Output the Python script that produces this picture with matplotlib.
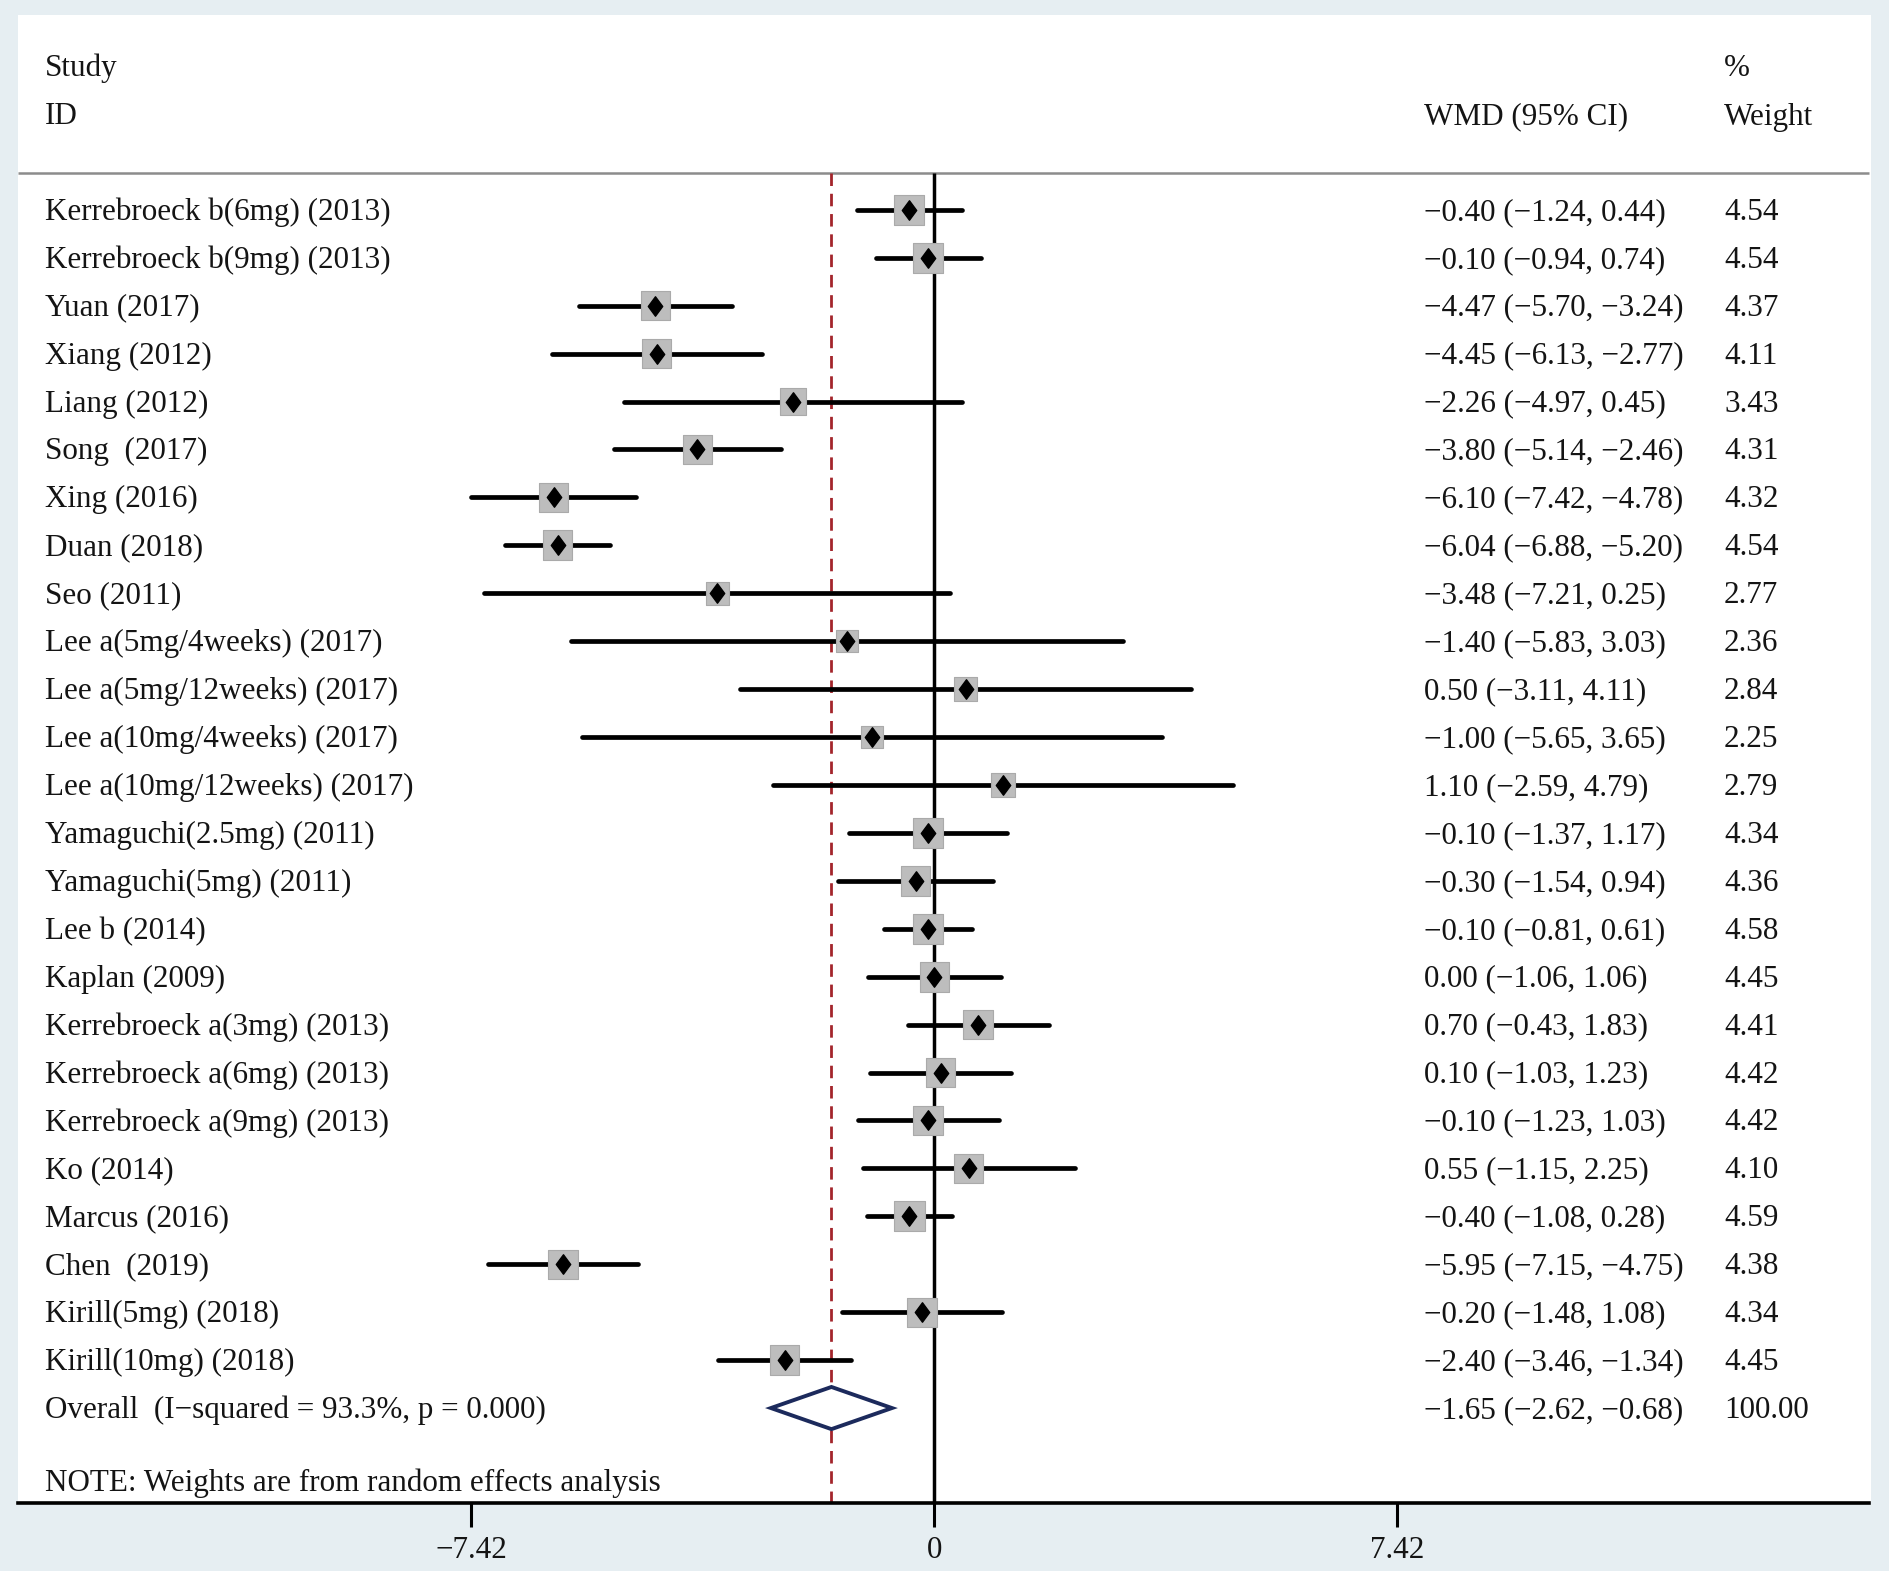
import matplotlib
matplotlib.use("Agg")
import matplotlib.pyplot as plt
from matplotlib.patches import Rectangle, Polygon
from matplotlib.path import Path

plt.rcParams['font.family'] = ['Liberation Serif', 'DejaVu Serif']

# ---------------- data ----------------
studies = [
    "Kerrebroeck b(6mg) (2013)", "Kerrebroeck b(9mg) (2013)", "Yuan (2017)",
    "Xiang (2012)", "Liang (2012)", "Song  (2017)", "Xing (2016)", "Duan (2018)",
    "Seo (2011)", "Lee a(5mg/4weeks) (2017)", "Lee a(5mg/12weeks) (2017)",
    "Lee a(10mg/4weeks) (2017)", "Lee a(10mg/12weeks) (2017)",
    "Yamaguchi(2.5mg) (2011)", "Yamaguchi(5mg) (2011)", "Lee b (2014)",
    "Kaplan (2009)", "Kerrebroeck a(3mg) (2013)", "Kerrebroeck a(6mg) (2013)",
    "Kerrebroeck a(9mg) (2013)", "Ko (2014)", "Marcus (2016)", "Chen  (2019)",
    "Kirill(5mg) (2018)", "Kirill(10mg) (2018)",
]
wmd = [-0.40, -0.10, -4.47, -4.45, -2.26, -3.80, -6.10, -6.04, -3.48, -1.40,
       0.50, -1.00, 1.10, -0.10, -0.30, -0.10, 0.00, 0.70, 0.10, -0.10, 0.55,
       -0.40, -5.95, -0.20, -2.40]
ci_low = [-1.24, -0.94, -5.70, -6.13, -4.97, -5.14, -7.42, -6.88, -7.21, -5.83,
          -3.11, -5.65, -2.59, -1.37, -1.54, -0.81, -1.06, -0.43, -1.03, -1.23,
          -1.15, -1.08, -7.15, -1.48, -3.46]
ci_high = [0.44, 0.74, -3.24, -2.77, 0.45, -2.46, -4.78, -5.20, 0.25, 3.03,
           4.11, 3.65, 4.79, 1.17, 0.94, 0.61, 1.06, 1.83, 1.23, 1.03, 2.25,
           0.28, -4.75, 1.08, -1.34]
weights = [4.54, 4.54, 4.37, 4.11, 3.43, 4.31, 4.32, 4.54, 2.77, 2.36, 2.84,
           2.25, 2.79, 4.34, 4.36, 4.58, 4.45, 4.41, 4.42, 4.42, 4.10, 4.59,
           4.38, 4.34, 4.45]
overall_label = "Overall  (I\u2212squared = 93.3%, p = 0.000)"
overall_est, overall_low, overall_high, overall_weight = -1.65, -2.62, -0.68, 100.00
tick_values = [-7.42, 0, 7.42]
note = "NOTE: Weights are from random effects analysis"

# ---------------- layout (pixel geometry) ----------------
W, H = 1890, 1571
X0, PPU = 934.4, 62.4      # pixel x of zero, pixels per unit
Y0, PPR = 209.8, 47.93     # pixel y of first row, pixels per row

def px2x(px):
    return (px - X0) / PPU

def px2y(py):
    return (py - Y0) / PPR

def fmt(v):
    return f"{v:.2f}".replace("-", "\u2212")

fig = plt.figure(figsize=(W / 100, H / 100), dpi=100)
fig.patch.set_facecolor("#e6eef2")
ax = fig.add_axes([0, 0, 1, 1])
ax.patch.set_visible(False)
ax.set_xlim(px2x(0), px2x(W))
ax.set_ylim(px2y(H), px2y(0))

# white panel
ax.add_patch(Rectangle((px2x(18), px2y(15)), px2x(1871) - px2x(18),
                       px2y(1503) - px2y(15), facecolor="white",
                       edgecolor="none", zorder=0))

FS = 22.4
TC = "#141414"
TOFF = 2.5 / PPR   # small downward text offset (rows)
xl, xc, xw = px2x(44.6), px2x(1424), px2x(1724)

def txt(x, y, s):
    ax.text(x, y + TOFF, s, fontsize=FS, color=TC, va="center")

# header
txt(xl, px2y(66), "Study")
txt(xl, px2y(114.5), "ID")
txt(xc, px2y(114.5), "WMD (95% CI)")
txt(xw, px2y(66), "%")
txt(xw, px2y(114.5), "Weight")
ax.hlines(px2y(173), px2x(18), px2x(1869), color="#8c8c8c", lw=1.8, zorder=1)

rows = list(range(len(studies)))
overall_row = len(studies)

# reference lines
ax.vlines(0, px2y(173), px2y(1503), color="black", lw=2.5, zorder=1)
ax.vlines(overall_est, px2y(173), px2y(1503), color="#a3252b", lw=2.0,
          linestyles=[(0, (4.5, 2.8))], zorder=1)

# CI lines, boxes, points
ax.hlines(rows, ci_low, ci_high, color="black", lw=3.4, zorder=2,
          capstyle="round")
ax.scatter(wmd, rows, s=[102.7 * w for w in weights], marker="s",
           c="#bdbdbd", edgecolors="#aaaaaa", linewidths=0.8, zorder=3)
dmark = Path([(0, 1), (0.74, 0), (0, -1), (-0.74, 0), (0, 1)],
             [Path.MOVETO, Path.LINETO, Path.LINETO, Path.LINETO, Path.CLOSEPOLY])
ax.plot(wmd, rows, ls="none", marker=dmark, ms=14.0, color="black", zorder=4)

# overall diamond
hh = 0.44
ax.add_patch(Polygon([(overall_low, overall_row), (overall_est, overall_row - hh),
                      (overall_high, overall_row), (overall_est, overall_row + hh)],
                     closed=True, facecolor="white", edgecolor="#1c2a5c",
                     lw=2.8, zorder=4))

# text columns
for i, s in enumerate(studies):
    txt(xl, i, s)
    txt(xc, i, f"{fmt(wmd[i])} ({fmt(ci_low[i])}, {fmt(ci_high[i])})")
    txt(xw, i, f"{weights[i]:.2f}")
txt(xl, overall_row, overall_label)
txt(xc, overall_row, f"{fmt(overall_est)} ({fmt(overall_low)}, {fmt(overall_high)})")
txt(xw, overall_row, f"{overall_weight:.2f}")
txt(xl, px2y(1480.6), note)

# bottom axis
for sp in ["top", "left", "right"]:
    ax.spines[sp].set_visible(False)
ax.spines["bottom"].set_position(("data", px2y(1503)))
ax.spines["bottom"].set_bounds(px2x(18), px2x(1869))
ax.spines["bottom"].set_linewidth(2.6)
ax.set_xticks(tick_values)
ax.set_xticklabels([fmt(t) if t != 0 else "0" for t in tick_values])
ax.tick_params(axis="x", direction="out", length=17, width=2.2, pad=7,
               labelsize=FS, labelcolor=TC)
ax.tick_params(axis="y", left=False, labelleft=False)

fig.savefig("out.png", dpi=100, facecolor=fig.get_facecolor())
